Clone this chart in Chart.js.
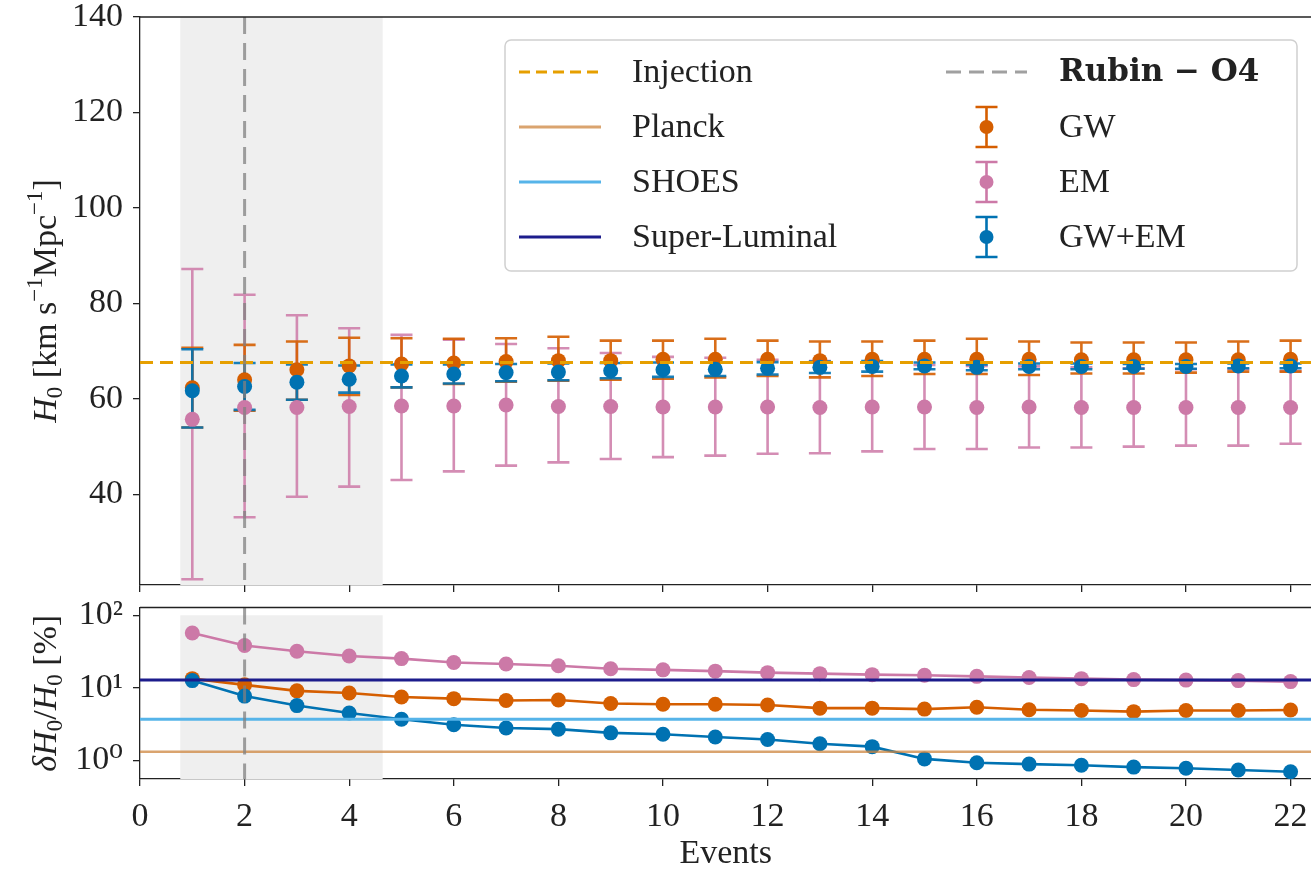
<!DOCTYPE html>
<html>
<head>
<meta charset="utf-8">
<script src="https://cdn.jsdelivr.net/npm/chart.js@4.4.0/dist/chart.umd.min.js"></script>
<style>
  html, body { margin: 0; padding: 0; background: #fff; overflow: hidden; }
  #top { position: absolute; left: 0; top: 0; width: 1319px; height: 600px; }
  #bot { position: absolute; left: 0; top: 600px; width: 1319px; height: 275px; }
</style>
</head>
<body>
<div id="top"><canvas id="h0Chart"></canvas></div>
<div id="bot"><canvas id="errChart"></canvas></div>
<script>
// data
const events = [1, 2, 3, 4, 5, 6, 7, 8, 9, 10, 11, 12, 13, 14, 15, 16, 17, 18, 19, 20, 21, 22];

const gwH0 = [62.3, 64.0, 66.1, 66.9, 67.3, 67.5, 67.8, 68.0, 68.0, 68.3, 68.3, 68.3, 68.0, 68.3, 68.3, 68.3, 68.3, 68.2, 68.2, 68.2, 68.2, 68.3];
const gwLo = [54.0, 57.5, 59.8, 60.8, 62.4, 63.1, 63.6, 63.8, 64.0, 64.2, 64.5, 64.8, 64.5, 64.8, 65.2, 65.2, 65.0, 65.3, 65.3, 65.5, 65.7, 65.7];
const gwHi = [70.7, 71.3, 72.0, 72.8, 72.7, 72.6, 72.7, 73.0, 72.2, 72.2, 72.6, 72.2, 72.0, 72.0, 72.2, 72.6, 72.0, 71.8, 71.8, 71.8, 72.0, 72.2];

const emH0 = [55.7, 58.2, 58.2, 58.4, 58.5, 58.5, 58.7, 58.4, 58.4, 58.3, 58.3, 58.3, 58.2, 58.3, 58.3, 58.2, 58.3, 58.2, 58.2, 58.2, 58.2, 58.2];
const emLo = [22.2, 35.2, 39.5, 41.6, 43.0, 44.8, 46.0, 46.7, 47.4, 47.8, 48.1, 48.5, 48.6, 49.0, 49.5, 49.5, 49.8, 49.8, 50.0, 50.2, 50.2, 50.6];
const emHi = [87.2, 81.8, 77.5, 74.8, 73.4, 72.4, 71.5, 70.6, 69.6, 68.8, 68.6, 68.2, 67.9, 67.6, 67.1, 66.9, 66.8, 66.6, 66.4, 66.2, 66.2, 65.8];

const combH0 = [61.7, 62.6, 63.5, 64.1, 64.8, 65.2, 65.5, 65.6, 65.9, 66.1, 66.2, 66.4, 66.6, 66.8, 66.9, 66.6, 66.8, 66.8, 66.8, 66.8, 66.9, 66.9];
const combLo = [54.0, 57.7, 59.8, 61.3, 62.4, 63.2, 63.7, 63.9, 64.3, 64.6, 64.8, 65.1, 65.4, 65.7, 66.2, 66.0, 66.2, 66.2, 66.3, 66.3, 66.4, 66.4];
const combHi = [70.4, 67.5, 67.2, 67.0, 67.2, 67.2, 67.3, 67.4, 67.5, 67.6, 67.6, 67.7, 67.8, 67.9, 67.6, 67.2, 67.4, 67.4, 67.3, 67.3, 67.4, 67.4];

const emPct = [57, 38.4, 32, 27.5, 25.3, 22.4, 21.3, 20.2, 18.3, 17.7, 17.0, 16.2, 15.7, 15.2, 14.9, 14.4, 13.9, 13.4, 13.0, 12.8, 12.6, 12.2];
const gwPct = [13.4, 11.0, 9.1, 8.5, 7.5, 7.1, 6.7, 6.8, 6.1, 5.95, 5.95, 5.8, 5.25, 5.25, 5.1, 5.4, 5.0, 4.87, 4.7, 4.87, 4.87, 4.95];
const combPct = [12.6, 7.7, 5.7, 4.5, 3.7, 3.1, 2.8, 2.7, 2.4, 2.3, 2.1, 1.94, 1.7, 1.55, 1.05, 0.93, 0.89, 0.86, 0.81, 0.78, 0.74, 0.70];

const injectionH0 = 67.6;
const planckPct = 1.32;
const shoesPct = 3.7;
const superLuminalPct = 12.8;

const rubinEvent = 2;
const rubinSpan = [0.77, 4.64];
const rubinPctTop = 100;

const xTicks = [0, 2, 4, 6, 8, 10, 12, 14, 16, 18, 20, 22];
const yTicks = [40, 60, 80, 100, 120, 140];
const logTicks = [1, 10, 100];
const logTickLabels = ["10\u2070", "10\u00b9", "10\u00b2"];

// colours
const cGW = "#d55e00";
const cEM = "#cc79a7";
const cComb = "#0072b2";
const cInj = "#e69f00";
const cPlanck = "rgba(205,133,63,0.75)";
const cShoes = "#56b4e9";
const cSL = "#1c1c8c";
const cRubin = "rgba(128,128,128,0.75)";
const cShade = "#efefef";
const ink = "#222";
const FONT = "'Liberation Serif', 'DejaVu Serif', serif";

const pts = (ys) => events.map((e, i) => ({ x: e, y: ys[i] }));

function xScale(showLabels, height) {
  return {
    type: "linear",
    min: 0,
    max: 22.4,
    afterBuildTicks: (s) => { s.ticks = xTicks.map((v) => ({ value: v })); },
    afterFit: (s) => { s.height = height; s.paddingLeft = 0; s.paddingRight = 0; },
    ticks: {
      display: showLabels,
      color: ink,
      padding: 11,
      maxRotation: 0,
      font: { family: FONT, size: 34 },
    },
    grid: { display: true, drawOnChartArea: false, drawTicks: true, tickLength: 7, color: ink, lineWidth: 1.3 },
    border: { display: true, color: ink, width: 1.3 },
    title: {
      display: showLabels,
      text: "Events",
      color: ink,
      padding: { top: 0, bottom: 1 },
      font: { family: FONT, size: 34 },
    },
  };
}

// y-axis titles with italic symbols and sub/superscripts, drawn rotated
const topTitle = [["H", "i"], ["0", "sub"], [" [km s", "n"], ["\u22121", "sup"], ["Mpc", "n"], ["\u22121", "sup"], ["]", "n"]];
const bottomTitle = [["\u03b4H", "i"], ["0", "sub"], ["/", "n"], ["H", "i"], ["0", "sub"], [" [%]", "n"]];

function segFont(kind) {
  if (kind === "i") return "italic 34px " + FONT;
  if (kind === "sub" || kind === "sup") return "23px " + FONT;
  return "34px " + FONT;
}

function drawRichTitle(chart, segs, cx) {
  const { ctx, chartArea } = chart;
  const cy = (chartArea.top + chartArea.bottom) / 2;
  ctx.save();
  ctx.translate(cx, cy);
  ctx.rotate(-Math.PI / 2);
  ctx.fillStyle = ink;
  ctx.textBaseline = "alphabetic";
  ctx.textAlign = "left";
  let total = 0;
  segs.forEach(([t, k]) => { ctx.font = segFont(k); total += ctx.measureText(t).width; });
  let x = -total / 2;
  const base = 12;
  segs.forEach(([t, k]) => {
    ctx.font = segFont(k);
    const dy = k === "sub" ? 6 : k === "sup" ? -14 : 0;
    ctx.fillText(t, x, base + dy);
    x += ctx.measureText(t).width;
  });
  ctx.restore();
}

function drawErrorBars(chart, lo, hi, color) {
  const { ctx, scales: { x, y } } = chart;
  ctx.save();
  ctx.strokeStyle = color;
  ctx.lineWidth = 2.6;
  events.forEach((e, i) => {
    const px = x.getPixelForValue(e);
    const p1 = y.getPixelForValue(lo[i]);
    const p2 = y.getPixelForValue(hi[i]);
    ctx.beginPath();
    ctx.moveTo(px, p1); ctx.lineTo(px, p2);
    ctx.moveTo(px - 11, p1); ctx.lineTo(px + 11, p1);
    ctx.moveTo(px - 11, p2); ctx.lineTo(px + 11, p2);
    ctx.stroke();
  });
  ctx.restore();
}

function drawShade(chart, topValue) {
  const { ctx, chartArea, scales: { x, y } } = chart;
  const x1 = x.getPixelForValue(rubinSpan[0]);
  const x2 = x.getPixelForValue(rubinSpan[1]);
  const yTop = topValue == null ? chartArea.top : y.getPixelForValue(topValue);
  ctx.save();
  ctx.fillStyle = cShade;
  ctx.fillRect(x1, yTop, x2 - x1, chartArea.bottom - yTop);
  ctx.restore();
}

function drawRubinLine(chart) {
  const { ctx, chartArea, scales: { x } } = chart;
  const px = x.getPixelForValue(rubinEvent);
  ctx.save();
  ctx.strokeStyle = cRubin;
  ctx.lineWidth = 3;
  ctx.setLineDash([17, 9]);
  ctx.beginPath();
  ctx.moveTo(px, chartArea.top);
  ctx.lineTo(px, chartArea.bottom);
  ctx.stroke();
  ctx.restore();
}

function drawTopFrame(chart) {
  const { ctx, chartArea } = chart;
  ctx.save();
  ctx.strokeStyle = ink;
  ctx.lineWidth = 1.3;
  ctx.beginPath();
  ctx.moveTo(chartArea.left, chartArea.top);
  ctx.lineTo(chartArea.right, chartArea.top);
  ctx.stroke();
  ctx.restore();
}

const topDecor = {
  id: "topDecor",
  beforeDatasetsDraw(chart) {
    drawShade(chart, null);
    drawErrorBars(chart, emLo, emHi, "rgba(204,121,167,0.85)");
    drawErrorBars(chart, gwLo, gwHi, "rgba(213,94,0,0.9)");
    drawErrorBars(chart, combLo, combHi, "rgba(0,114,178,0.9)");
  },
  afterDatasetsDraw(chart) {
    drawRubinLine(chart);
    drawTopFrame(chart);
  },
  afterDraw(chart) {
    drawRichTitle(chart, topTitle, 44);
  },
};

const legendItems = [
  { col: 0, row: 0, text: "Injection", kind: "dash", color: cInj },
  { col: 0, row: 1, text: "Planck", kind: "line", color: cPlanck },
  { col: 0, row: 2, text: "SHOES", kind: "line", color: cShoes },
  { col: 0, row: 3, text: "Super-Luminal", kind: "line", color: cSL },
  { col: 1, row: 0, text: "Rubin \u2212 O4", kind: "dash", color: cRubin, bold: true },
  { col: 1, row: 1, text: "GW", kind: "err", color: cGW },
  { col: 1, row: 2, text: "EM", kind: "err", color: cEM },
  { col: 1, row: 3, text: "GW+EM", kind: "err", color: cComb },
];

const legendBox = {
  id: "legendBox",
  afterDraw(chart) {
    const ctx = chart.ctx;
    ctx.save();
    ctx.beginPath();
    ctx.roundRect(505, 40, 792, 231, 6);
    ctx.fillStyle = "rgba(255,255,255,0.85)";
    ctx.fill();
    ctx.strokeStyle = "#d0d0d0";
    ctx.lineWidth = 1.5;
    ctx.stroke();
    const rowY = [72, 127, 182, 237];
    const handleX = [[519, 601], [946, 1027]];
    const textX = [632, 1059];
    legendItems.forEach((it) => {
      const y = rowY[it.row];
      const [h1, h2] = handleX[it.col];
      ctx.strokeStyle = it.color;
      ctx.fillStyle = it.color;
      if (it.kind === "dash" || it.kind === "line") {
        ctx.lineWidth = 3;
        ctx.setLineDash(it.kind === "dash" ? (it.col === 0 ? [11, 6] : [15, 8]) : []);
        ctx.beginPath(); ctx.moveTo(h1, y); ctx.lineTo(h2, y); ctx.stroke();
        ctx.setLineDash([]);
      } else {
        const cx = (h1 + h2) / 2;
        ctx.lineWidth = 2.6;
        ctx.beginPath();
        ctx.moveTo(cx, y - 20); ctx.lineTo(cx, y + 20);
        ctx.moveTo(cx - 11, y - 20); ctx.lineTo(cx + 11, y - 20);
        ctx.moveTo(cx - 11, y + 20); ctx.lineTo(cx + 11, y + 20);
        ctx.stroke();
        ctx.beginPath(); ctx.arc(cx, y, 7, 0, Math.PI * 2); ctx.fill();
      }
      ctx.fillStyle = ink;
      ctx.font = it.bold ? "bold 31px 'DejaVu Serif', serif" : "34px " + FONT;
      ctx.textBaseline = "middle";
      ctx.textAlign = "left";
      ctx.fillText(it.text, textX[it.col], y + 1);
    });
    ctx.restore();
  },
};

const bottomDecor = {
  id: "bottomDecor",
  beforeDatasetsDraw(chart) {
    drawShade(chart, rubinPctTop);
  },
  afterDatasetsDraw(chart) {
    drawRubinLine(chart);
    drawTopFrame(chart);
  },
  afterDraw(chart) {
    drawRichTitle(chart, bottomTitle, 44);
  },
};

const pointStyle = (color, r) => ({
  backgroundColor: color,
  borderColor: color,
  pointRadius: r,
  pointHoverRadius: r,
  pointBorderWidth: 0,
});

new Chart(document.getElementById("h0Chart"), {
  type: "scatter",
  data: {
    datasets: [
      { label: "EM", data: pts(emH0), ...pointStyle(cEM, 7.5), order: 4 },
      { label: "GW", data: pts(gwH0), ...pointStyle(cGW, 7.5), order: 3 },
      { label: "GW+EM", data: pts(combH0), ...pointStyle(cComb, 7.5), order: 2 },
      {
        label: "Injection",
        data: [{ x: 0, y: injectionH0 }, { x: 22.4, y: injectionH0 }],
        showLine: true,
        borderColor: cInj,
        borderWidth: 3,
        borderDash: [13, 7],
        pointRadius: 0,
        order: 1,
      },
    ],
  },
  options: {
    responsive: true,
    maintainAspectRatio: false,
    animation: false,
    devicePixelRatio: 1,
    layout: { padding: { top: 17, left: 0, right: 0, bottom: 0 } },
    plugins: { legend: { display: false }, tooltip: { enabled: false } },
    scales: {
      x: xScale(false, 15),
      y: {
        type: "linear",
        min: 21,
        max: 140,
        afterBuildTicks: (s) => { s.ticks = yTicks.map((v) => ({ value: v })); },
        afterFit: (s) => { s.width = 140; s.paddingTop = 0; s.paddingBottom = 0; },
        ticks: { color: ink, padding: 10, font: { family: FONT, size: 34 } },
        grid: { display: true, drawOnChartArea: false, drawTicks: true, tickLength: 7, color: ink, lineWidth: 1.3 },
        border: { display: true, color: ink, width: 1.3 },
        title: { display: false, text: "H0 [km s-1 Mpc-1]" },
      },
    },
  },
  plugins: [topDecor, legendBox],
});

const refLine = (label, value, color, width, order) => ({
  label: label,
  data: [{ x: 0, y: value }, { x: 22.4, y: value }],
  showLine: true,
  borderColor: color,
  borderWidth: width,
  pointRadius: 0,
  order: order,
});

new Chart(document.getElementById("errChart"), {
  type: "scatter",
  data: {
    datasets: [
      { label: "EM", data: pts(emPct), showLine: true, borderWidth: 2.6, ...pointStyle(cEM, 7.5), order: 6 },
      { label: "GW", data: pts(gwPct), showLine: true, borderWidth: 2.6, ...pointStyle(cGW, 7.5), order: 5 },
      { label: "GW+EM", data: pts(combPct), showLine: true, borderWidth: 2.6, ...pointStyle(cComb, 7.5), order: 4 },
      refLine("Planck", planckPct, cPlanck, 2.5, 3),
      refLine("SHOES", shoesPct, cShoes, 3, 2),
      refLine("Super-Luminal", superLuminalPct, cSL, 3, 1),
    ],
  },
  options: {
    responsive: true,
    maintainAspectRatio: false,
    animation: false,
    devicePixelRatio: 1,
    layout: { padding: { top: 3, left: 0, right: 0, bottom: 0 } },
    plugins: { legend: { display: false }, tooltip: { enabled: false } },
    scales: {
      x: xScale(true, 96),
      y: {
        type: "logarithmic",
        min: 0.555,
        max: 128,
        afterBuildTicks: (s) => { s.ticks = logTicks.map((v) => ({ value: v })); },
        afterFit: (s) => { s.width = 140; s.paddingTop = 0; s.paddingBottom = 0; },
        ticks: {
          color: ink,
          padding: 10,
          font: { family: FONT, size: 34 },
          callback: (value, index) => logTickLabels[index],
        },
        grid: { display: true, drawOnChartArea: false, drawTicks: true, tickLength: 7, color: ink, lineWidth: 1.3 },
        border: { display: true, color: ink, width: 1.3 },
        title: { display: false, text: "dH0/H0 [%]" },
      },
    },
  },
  plugins: [bottomDecor],
});
</script>
</body>
</html>
